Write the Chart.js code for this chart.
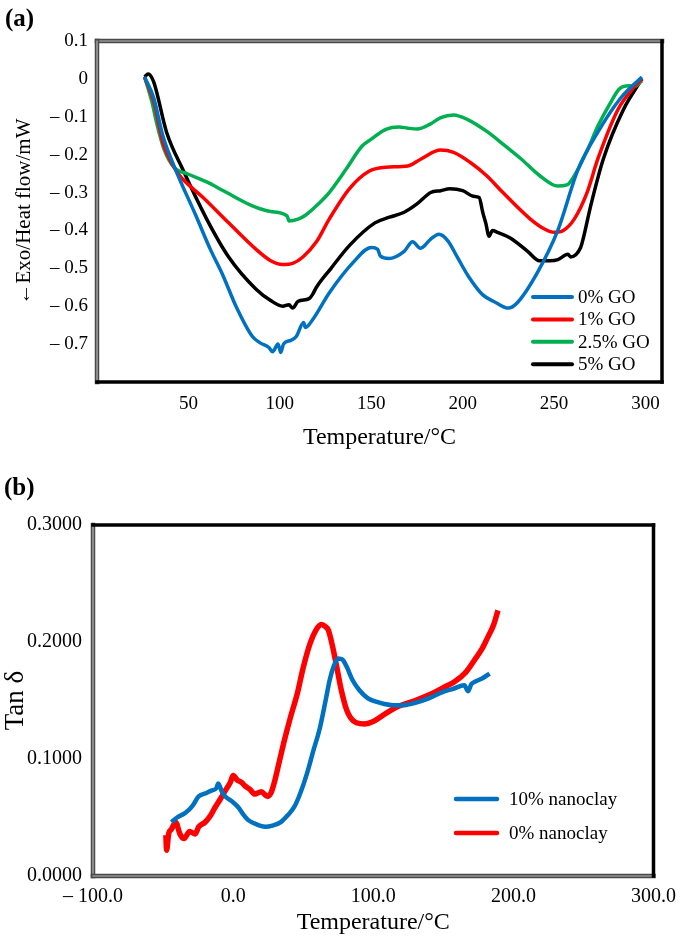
<!DOCTYPE html>
<html>
<head>
<meta charset="utf-8">
<script src="https://cdn.jsdelivr.net/npm/chart.js@4.4.1/dist/chart.umd.min.js"></script>
<style>
  html, body { margin: 0; padding: 0; background: #fff; }
  #page { position: relative; width: 685px; height: 941px; overflow: hidden; }
  #chartA { position: absolute; left: 0; top: 0; }
  #chartB { position: absolute; left: 0; top: 460px; }
  .panel { position: absolute; font: bold 25px "Liberation Serif", serif; line-height: 28px; }
</style>
</head>
<body>
<div id="page">
  <canvas id="chartA" width="685" height="460"></canvas>
  <canvas id="chartB" width="685" height="481"></canvas>
  <div class="panel" style="left:5px;top:4px">(a)</div>
  <div class="panel" style="left:4px;top:473px">(b)</div>
</div>
<script>
// (a) DSC curves, temperature in °C, heat flow in mW
const go0T = [26, 31, 36, 43, 54, 62, 69, 76, 85, 89, 94, 96, 99, 100.5, 102, 106, 109, 113, 114, 118, 127, 140, 150, 153.5, 155, 159.6, 168, 172.6, 177, 182.5, 187, 192, 197, 203, 211, 218, 225, 230, 241, 252, 263, 274, 286, 298];
const go0V = [0.005, -0.05, -0.15, -0.24, -0.36, -0.45, -0.52, -0.60, -0.68, -0.696, -0.709, -0.72, -0.70, -0.722, -0.70, -0.69, -0.68, -0.643, -0.656, -0.635, -0.565, -0.485, -0.445, -0.45, -0.468, -0.474, -0.455, -0.43, -0.447, -0.423, -0.41, -0.428, -0.47, -0.52, -0.57, -0.59, -0.605, -0.59, -0.51, -0.40, -0.24, -0.14, -0.053, 0.005];

const go1T = [26, 31, 36, 43, 47, 58, 72, 87, 95, 101.6, 107, 112.6, 120, 127, 138, 149, 158, 170, 177, 188, 195, 204, 213, 222, 237, 245, 250, 255, 261, 268, 274, 285, 293, 298];
const go1V = [0.005, -0.06, -0.167, -0.24, -0.265, -0.313, -0.38, -0.45, -0.48, -0.49, -0.487, -0.47, -0.43, -0.37, -0.29, -0.243, -0.233, -0.23, -0.212, -0.188, -0.194, -0.22, -0.255, -0.30, -0.37, -0.397, -0.405, -0.40, -0.37, -0.30, -0.21, -0.08, -0.026, 0];

const go25T = [26, 30, 33, 36.6, 42, 49.7, 60, 69.4, 85, 95, 104, 105, 110, 114, 120, 127, 136, 145, 150, 158, 165, 170, 175, 182, 188, 195, 203, 213.6, 222, 231.7, 242, 252, 257, 261, 268, 274, 280, 286, 291, 294, 298];
const go25V = [0.005, -0.06, -0.124, -0.185, -0.233, -0.251, -0.272, -0.296, -0.335, -0.35, -0.362, -0.375, -0.37, -0.36, -0.335, -0.30, -0.24, -0.177, -0.159, -0.133, -0.127, -0.13, -0.132, -0.12, -0.102, -0.095, -0.108, -0.14, -0.172, -0.21, -0.255, -0.283, -0.28, -0.256, -0.19, -0.124, -0.07, -0.025, -0.018, -0.02, -0.005];

const go5T = [26, 28, 31, 38, 47, 60, 72, 87, 95, 101.6, 105, 107, 110, 116, 118, 120, 128, 138, 152, 160, 168, 175, 182.5, 188, 193, 200, 206, 209, 211, 212.6, 214.4, 216.3, 219, 226, 235.5, 242, 248, 252, 257.6, 259, 264.5, 266, 270, 277, 288, 298];
const go5V = [0.005, 0.013, -0.008, -0.14, -0.24, -0.37, -0.47, -0.555, -0.585, -0.60, -0.596, -0.605, -0.587, -0.58, -0.568, -0.55, -0.50, -0.44, -0.38, -0.365, -0.352, -0.33, -0.30, -0.295, -0.29, -0.295, -0.31, -0.313, -0.353, -0.38, -0.415, -0.40, -0.405, -0.42, -0.455, -0.48, -0.48, -0.477, -0.463, -0.47, -0.445, -0.42, -0.335, -0.21, -0.08, 0];

// (b) Tan delta curves, temperature in °C
const nc10T = [-44, -40, -34, -29, -24.6, -19, -15.5, -12, -10.6, -8, -5.6, -1, 3.5, 7, 10.6, 15, 19, 23.2, 28, 34, 39, 43.6, 48, 52.8, 57, 62, 66, 69, 72, 75, 78, 81, 85, 90, 96, 102, 108, 114, 122, 130, 140, 149, 157, 165, 167.6, 170, 172.5, 178, 183];
const nc10V = [0.046, 0.05, 0.054, 0.06, 0.068, 0.071, 0.073, 0.075, 0.079, 0.072, 0.068, 0.064, 0.059, 0.053, 0.048, 0.045, 0.043, 0.042, 0.043, 0.046, 0.052, 0.059, 0.071, 0.088, 0.106, 0.127, 0.15, 0.168, 0.18, 0.186, 0.185, 0.179, 0.168, 0.159, 0.152, 0.149, 0.147, 0.146, 0.146, 0.148, 0.152, 0.157, 0.16, 0.163, 0.158, 0.164, 0.166, 0.169, 0.173];

const nc0T = [-48, -47.5, -46, -44, -41, -38, -35, -31, -27, -24.6, -20, -16, -12.7, -9, -5.6, -2, 0, 3, 6, 8.5, 12, 15.5, 20, 24.6, 27, 29.4, 33, 36.6, 41, 45.8, 50, 55, 59, 63, 66, 68, 71, 73.9, 77, 81, 84, 88, 94, 100, 109, 118, 130, 142, 150, 158, 166, 172.5, 178, 181.7, 186, 189];
const nc0V = [0.035, 0.022, 0.036, 0.04, 0.046, 0.036, 0.032, 0.038, 0.036, 0.042, 0.046, 0.052, 0.059, 0.066, 0.073, 0.08, 0.086, 0.082, 0.08, 0.077, 0.074, 0.07, 0.072, 0.068, 0.071, 0.08, 0.098, 0.116, 0.136, 0.156, 0.178, 0.199, 0.21, 0.215, 0.213, 0.21, 0.196, 0.179, 0.16, 0.142, 0.135, 0.131, 0.13, 0.132, 0.139, 0.145, 0.15, 0.156, 0.161, 0.166, 0.174, 0.185, 0.195, 0.204, 0.215, 0.227];

const FONT = '"Liberation Serif", "Times New Roman", serif';

function series(label, xs, ys, color, width) {
    return {
        label,
        data: xs.map((x, i) => ({ x, y: ys[i] })),
        borderColor: color,
        borderWidth: width,
        pointRadius: 0,
        cubicInterpolationMode: 'monotone',
        fill: false
    };
}

function minus(s) {
    return '\u2013 ' + s;
}

// plot area border: some sides as a grey double line, others solid black
const plotFrame = {
    id: 'plotFrame',
    afterDatasetsDraw(chart, args, opts) {
        const { left, right, top, bottom } = chart.chartArea;
        const ctx = chart.ctx;
        const sides = {
            top: [left, top, right, top],
            left: [left, top, left, bottom],
            bottom: [left, bottom, right, bottom],
            right: [right, top, right, bottom]
        };
        const seg = (p) => {
            ctx.beginPath();
            ctx.moveTo(p[0], p[1]);
            ctx.lineTo(p[2], p[3]);
            ctx.stroke();
        };
        ctx.save();
        ctx.lineCap = 'square';
        for (const side of Object.keys(sides)) {
            if (opts.grey.includes(side)) {
                ctx.strokeStyle = '#4a4a4a';
                ctx.lineWidth = 4.5;
                seg(sides[side]);
                ctx.strokeStyle = '#b8b8b8';
                ctx.lineWidth = 1.2;
                seg(sides[side]);
            }
        }
        for (const side of Object.keys(sides)) {
            if (!opts.grey.includes(side)) {
                ctx.strokeStyle = '#000';
                ctx.lineWidth = 3.5;
                seg(sides[side]);
            }
        }
        ctx.restore();
    }
};

// legend drawn inside the plot area
const boxLegend = {
    id: 'boxLegend',
    afterDraw(chart, args, opts) {
        const ctx = chart.ctx;
        ctx.save();
        ctx.font = opts.font;
        ctx.textBaseline = 'middle';
        ctx.lineCap = 'round';
        chart.data.datasets.forEach((ds, i) => {
            const y = opts.y + i * opts.gap;
            ctx.strokeStyle = ds.borderColor;
            ctx.lineWidth = opts.lineWidth;
            ctx.beginPath();
            ctx.moveTo(opts.x, y);
            ctx.lineTo(opts.x + opts.len, y);
            ctx.stroke();
            ctx.fillStyle = '#000';
            ctx.fillText(ds.label, opts.x + opts.len + opts.textGap, y + 1);
        });
        ctx.restore();
    }
};

new Chart(document.getElementById('chartA'), {
    type: 'line',
    data: {
        datasets: [
            series('0% GO', go0T, go0V, '#0070C0', 3.5),
            series('1% GO', go1T, go1V, '#FF0000', 3.5),
            series('2.5% GO', go25T, go25V, '#00B050', 3.5),
            series('5% GO', go5T, go5V, '#000000', 3.5)
        ]
    },
    options: {
        responsive: false,
        animation: false,
        layout: { padding: { top: 41, right: 23, left: 0, bottom: 0 } },
        scales: {
            x: {
                type: 'linear',
                min: 0,
                max: 309,
                grid: { display: false, drawTicks: false },
                border: { display: false },
                ticks: {
                    stepSize: 50,
                    includeBounds: false,
                    padding: 11,
                    color: '#000',
                    font: { family: FONT, size: 19 },
                    callback: v => (v === 0 ? '' : String(v))
                },
                title: {
                    display: true,
                    text: 'Temperature/°C',
                    color: '#000',
                    font: { family: FONT, size: 24 },
                    padding: { top: 0, bottom: 8 }
                },
                afterFit: s => { s.height = 78; }
            },
            y: {
                min: -0.8,
                max: 0.1,
                grid: { display: false, drawTicks: false },
                border: { display: false },
                ticks: {
                    stepSize: 0.1,
                    padding: 9,
                    color: '#000',
                    font: { family: FONT, size: 19 },
                    callback: v => {
                        if (Math.abs(v) < 1e-9) return '0';
                        if (v < -0.75) return '';
                        return v < 0 ? minus((-v).toFixed(1)) : v.toFixed(1);
                    }
                },
                title: {
                    display: true,
                    text: '\u2190Exo/Heat flow/mW',
                    color: '#000',
                    font: { family: FONT, size: 21 },
                    padding: { top: 12, bottom: 0 }
                },
                afterFit: s => { s.width = 97; }
            }
        },
        plugins: {
            legend: { display: false },
            tooltip: { enabled: false },
            plotFrame: { grey: ['top', 'left'] },
            boxLegend: { x: 533, y: 297, gap: 22.4, len: 39, textGap: 6, lineWidth: 4, font: '19px ' + FONT }
        }
    },
    plugins: [plotFrame, boxLegend]
});

new Chart(document.getElementById('chartB'), {
    type: 'line',
    data: {
        datasets: [
            series('10% nanoclay', nc10T, nc10V, '#0070C0', 4.5),
            series('0% nanoclay', nc0T, nc0V, '#FF0000', 5.5)
        ]
    },
    options: {
        responsive: false,
        animation: false,
        layout: { padding: { top: 65, right: 25, left: 0, bottom: 0 } },
        scales: {
            x: {
                type: 'linear',
                min: -100,
                max: 300,
                grid: { display: false, drawTicks: false },
                border: { display: false },
                ticks: {
                    stepSize: 100,
                    padding: 9,
                    color: '#000',
                    font: { family: FONT, size: 20 },
                    callback: v => (v < 0 ? minus((-v).toFixed(1)) : v.toFixed(1))
                },
                title: {
                    display: true,
                    text: 'Temperature/°C',
                    color: '#000',
                    font: { family: FONT, size: 24 },
                    padding: { top: 0, bottom: 4 }
                },
                afterFit: s => { s.height = 65; }
            },
            y: {
                min: 0,
                max: 0.3,
                grid: { display: false, drawTicks: false },
                border: { display: false },
                ticks: {
                    stepSize: 0.1,
                    padding: 11,
                    color: '#000',
                    font: { family: FONT, size: 20 },
                    callback: v => v.toFixed(4)
                },
                title: {
                    display: true,
                    text: 'Tan δ',
                    color: '#000',
                    font: { family: FONT, size: 27 },
                    padding: { top: 0, bottom: 0 }
                },
                afterFit: s => { s.width = 93; }
            }
        },
        plugins: {
            legend: { display: false },
            tooltip: { enabled: false },
            plotFrame: { grey: ['left', 'bottom'] },
            boxLegend: { x: 456, y: 339, gap: 34, len: 41, textGap: 12, lineWidth: 4.5, font: '19px ' + FONT }
        }
    },
    plugins: [plotFrame, boxLegend]
});
</script>
</body>
</html>
